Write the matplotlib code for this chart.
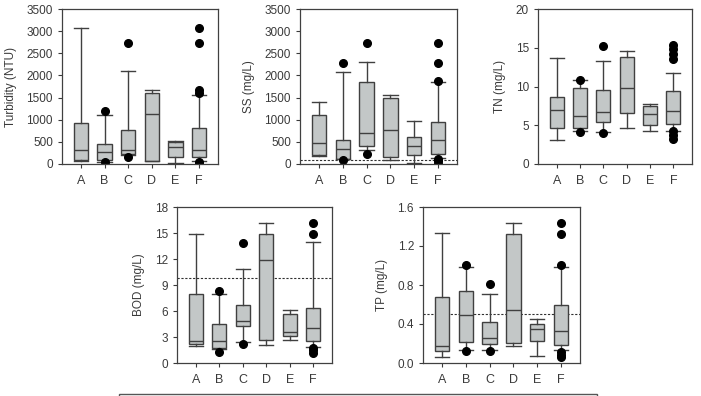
import matplotlib
matplotlib.use("Agg")
import matplotlib.pyplot as plt
from matplotlib.patches import Rectangle

plt.rcParams['font.family'] = ['Liberation Sans', 'DejaVu Sans']

# ── Dados ─────────────────────────────────────────────────────
sites = ["A", "B", "C", "D", "E", "F"]

turb_lo  = [60, 52, 203, 60, 15, 75]
turb_q1  = [90, 90, 219, 62, 166, 166]
turb_med = [305, 264, 320, 1125, 395, 305]
turb_q3  = [918, 450, 770, 1600, 490, 808]
turb_hi  = [3064, 1104, 2110, 1667, 518, 1547]
turb_out = [[], [1200, 40], [2726, 160], [], [], [3064, 2726, 1675, 1610, 50, 15]]

ss_lo  = [175, 113, 323, 83, 15, 143]
ss_q1  = [203, 113, 413, 158, 210, 225]
ss_med = [466, 338, 691, 774, 413, 533]
ss_q3  = [1096, 548, 1862, 1480, 616, 939]
ss_hi  = [1389, 2088, 2306, 1562, 961, 1862]
ss_out = [[], [2276, 98], [2726, 225], [], [], [2726, 2276, 1878, 120, 60, 10]]
ss_limit = 100

tn_lo  = [3.13, 4.2, 4.08, 4.68, 4.29, 4.29]
tn_q1  = [4.64, 4.64, 5.41, 6.57, 4.98, 5.19]
tn_med = [7.0, 6.22, 6.7, 9.79, 6.44, 6.87]
tn_q3  = [8.63, 9.83, 9.61, 13.82, 7.42, 9.4]
tn_hi  = [13.65, 10.9, 13.35, 14.6, 7.77, 11.8]
tn_out = [[], [10.86, 4.12], [15.28, 3.95], [], [], [15.3, 14.8, 14.2, 13.6, 4.2, 3.7, 3.2]]

bod_lo  = [1.92, 1.6, 2.38, 2.11, 2.69, 1.88]
bod_q1  = [2.23, 1.73, 4.3, 2.69, 3.07, 2.54]
bod_med = [2.49, 2.57, 4.8, 11.84, 3.57, 4.04]
bod_q3  = [7.96, 4.5, 6.65, 14.84, 5.61, 6.34]
bod_hi  = [14.88, 7.96, 10.84, 16.15, 6.15, 13.92]
bod_out = [[], [8.3, 1.23], [13.84, 2.23], [], [], [16.15, 14.84, 1.73, 1.46, 1.2]]
bod_limit = 9.8

tp_lo  = [0.062, 0.137, 0.13, 0.174, 0.075, 0.13]
tp_q1  = [0.12, 0.215, 0.19, 0.208, 0.229, 0.18]
tp_med = [0.178, 0.49, 0.256, 0.54, 0.349, 0.328]
tp_q3  = [0.68, 0.74, 0.417, 1.323, 0.397, 0.6]
tp_hi  = [1.33, 0.985, 0.708, 1.436, 0.455, 0.985]
tp_out = [[], [1.005, 0.12], [0.807, 0.123], [], [], [1.436, 1.323, 1.005, 0.11, 0.085, 0.062]]
tp_limit = 0.5

BOX_FC = "#c3c7c7"
EDGE = "#404040"
TXT = "#3a3a3a"
W, H = 701, 396


def panel(rect_px, lo, q1, med, q3, hi, out, ylabel, ylim, yticks, ytl, limit=None):
    l, r, t, b = rect_px
    ax = fig.add_axes([l / W, (H - b) / H, (r - l) / W, (b - t) / H])
    stats = [dict(whislo=lo[i], q1=q1[i], med=med[i], q3=q3[i], whishi=hi[i],
                  fliers=out[i], label=s) for i, s in enumerate(sites)]
    ax.bxp(stats, positions=range(1, 7), widths=0.6, capwidths=0.6,
           patch_artist=True,
           boxprops=dict(facecolor=BOX_FC, edgecolor=EDGE, linewidth=1.0),
           medianprops=dict(color=EDGE, linewidth=1.0),
           whiskerprops=dict(color=EDGE, linewidth=1.0),
           capprops=dict(color=EDGE, linewidth=1.0),
           flierprops=dict(marker="o", markerfacecolor="black",
                           markeredgecolor="black", markersize=5.5))
    if limit is not None:
        ax.axhline(limit, color="#303030", linestyle=(0, (2, 1.5)), linewidth=0.8, zorder=0.5)
    ax.set_xlim(0.2, 6.8)
    ax.set_ylim(*ylim)
    ax.set_yticks(yticks)
    ax.set_yticklabels(ytl)
    ax.set_ylabel(ylabel, fontsize=8.5, color=TXT, labelpad=7)
    ax.tick_params(axis="both", direction="out", labelsize=8.5, colors=TXT,
                   length=3, width=0.8)
    ax.tick_params(axis="x", labelsize=9, pad=5)
    for sp in ax.spines.values():
        sp.set_color(EDGE)
        sp.set_linewidth(0.9)
    return ax


fig = plt.figure(figsize=(W / 100, H / 100), dpi=100)

panel((62, 218, 9, 164), turb_lo, turb_q1, turb_med, turb_q3, turb_hi, turb_out,
      "Turbidity (NTU)", (0, 3500), range(0, 3501, 500),
      [str(v) for v in range(0, 3501, 500)])
panel((300, 457, 9, 164), ss_lo, ss_q1, ss_med, ss_q3, ss_hi, ss_out,
      "SS (mg/L)", (0, 3500), range(0, 3501, 500),
      [str(v) for v in range(0, 3501, 500)], limit=ss_limit)
panel((538, 692, 9, 164), tn_lo, tn_q1, tn_med, tn_q3, tn_hi, tn_out,
      "TN (mg/L)", (0, 20), range(0, 21, 5), [str(v) for v in range(0, 21, 5)])
panel((177, 332, 207, 363), bod_lo, bod_q1, bod_med, bod_q3, bod_hi, bod_out,
      "BOD (mg/L)", (0, 18), range(0, 19, 3), [str(v) for v in range(0, 19, 3)],
      limit=bod_limit)
tp_ticks = [0.0, 0.4, 0.8, 1.2, 1.6]
panel((423, 580, 207, 363), tp_lo, tp_q1, tp_med, tp_q3, tp_hi, tp_out,
      "TP (mg/L)", (0, 1.6), tp_ticks, [f"{v:.1f}" for v in tp_ticks], limit=tp_limit)

# caixa da legenda (cortada na figura original)
fig.patches.append(Rectangle((119 / W, -0.02), (597 - 119) / W, 0.02 + 2 / H,
                             transform=fig.transFigure, fill=False,
                             edgecolor="#555555", linewidth=1.0))

fig.savefig("out.png", dpi=100)
